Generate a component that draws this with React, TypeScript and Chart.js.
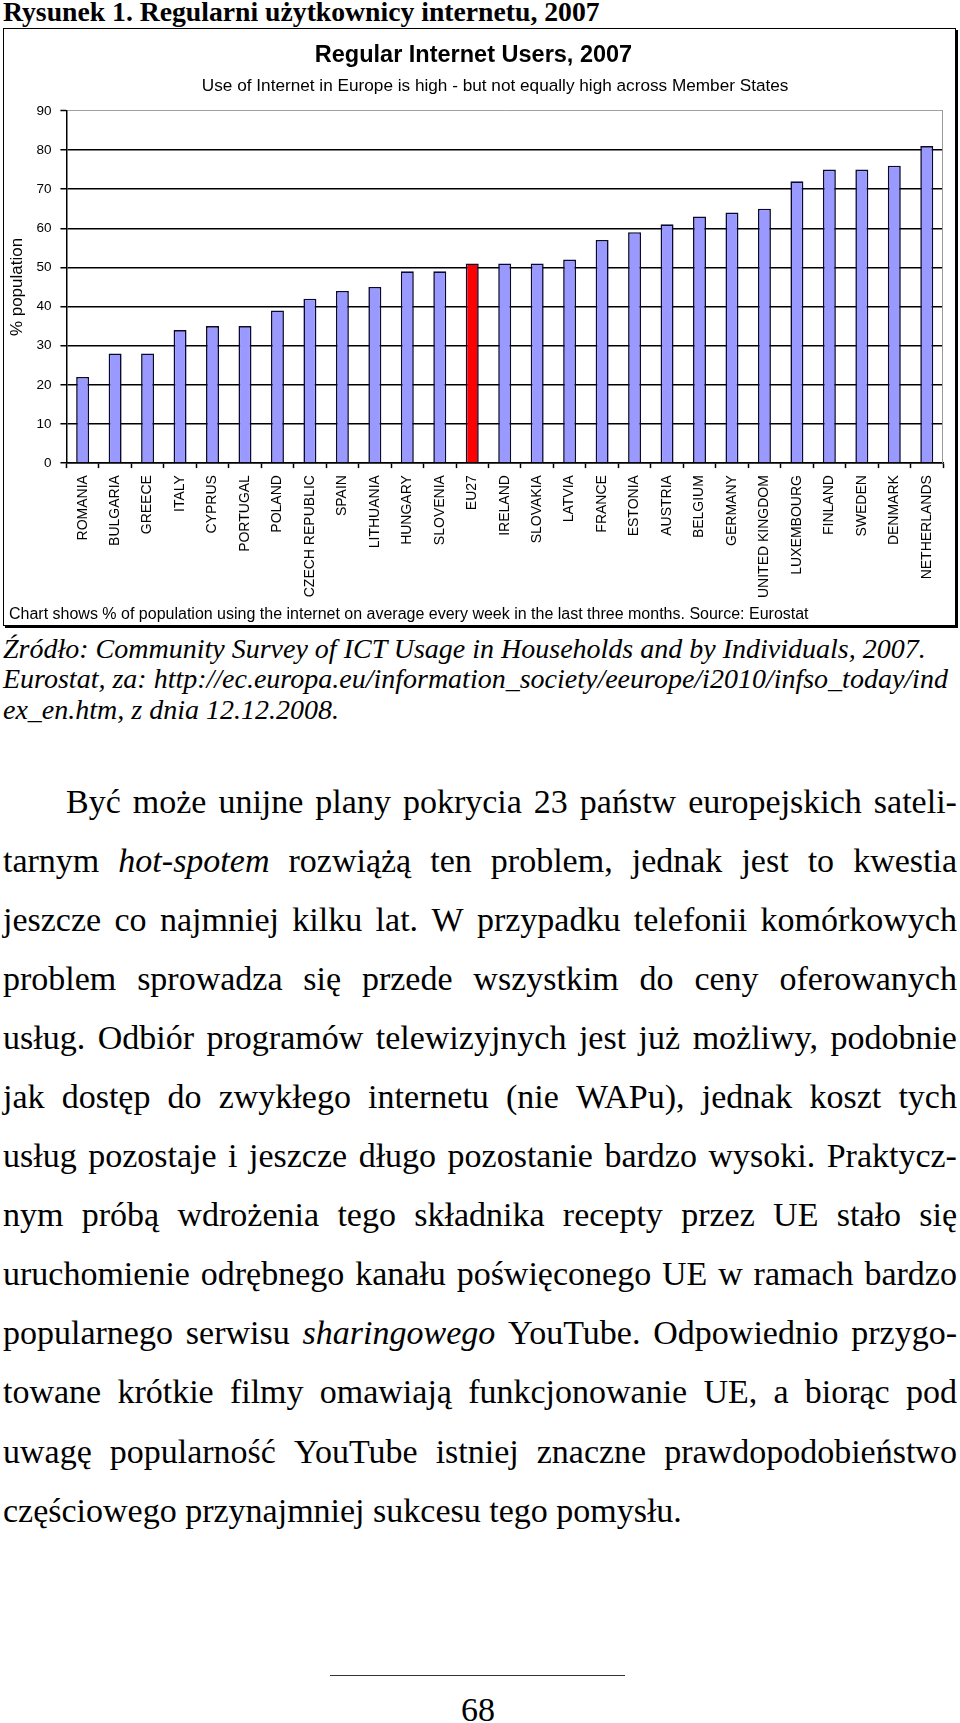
import React, { useEffect, useRef } from "react";
import { Chart, registerables } from "chart.js";

Chart.register(...registerables);

// ---------- data ----------
const categories = [
  "ROMANIA", "BULGARIA", "GREECE", "ITALY", "CYPRUS", "PORTUGAL", "POLAND",
  "CZECH REPUBLIC", "SPAIN", "LITHUANIA", "HUNGARY", "SLOVENIA", "EU27",
  "IRELAND", "SLOVAKIA", "LATVIA", "FRANCE", "ESTONIA", "AUSTRIA", "BELGIUM",
  "GERMANY", "UNITED KINGDOM", "LUXEMBOURG", "FINLAND", "SWEDEN", "DENMARK",
  "NETHERLANDS",
];
const regularUsersPct = [
  22, 28, 28, 34, 35, 35, 39, 42, 44, 45, 49, 49, 51, 51, 51, 52, 57, 59, 61,
  63, 64, 65, 72, 75, 75, 76, 81,
];
const highlightedCategory = "EU27";
const yMin = 0;
const yMax = 90;
const yStep = 10;

// ---------- texts ----------
const figureCaption = "Rysunek 1. Regularni użytkownicy internetu, 2007";
const chartTitle = "Regular Internet Users, 2007";
const chartSubtitle =
  "Use of Internet in Europe is high - but not equally high across Member States";
const yAxisTitle = "% population";
const chartNote =
  "Chart shows % of population using the internet on average every week in the last three months. Source: Eurostat";
const sourceLines = [
  "Źródło: Community Survey of ICT Usage in Households and by Individuals, 2007.",
  "Eurostat, za: http://ec.europa.eu/information_society/eeurope/i2010/infso_today/ind",
  "ex_en.htm, z dnia 12.12.2008.",
];
const bodyLines = [
  "Być może unijne plany pokrycia 23 państw europejskich sateli-",
  "tarnym hot-spotem rozwiążą ten problem, jednak jest to kwestia",
  "jeszcze co najmniej kilku lat. W przypadku telefonii komórkowych",
  "problem sprowadza się przede wszystkim do ceny oferowanych",
  "usług. Odbiór programów telewizyjnych jest już możliwy, podobnie",
  "jak dostęp do zwykłego internetu (nie WAPu), jednak koszt tych",
  "usług pozostaje i jeszcze długo pozostanie bardzo wysoki. Praktycz-",
  "nym próbą wdrożenia tego składnika recepty przez UE stało się",
  "uruchomienie odrębnego kanału poświęconego UE w ramach bardzo",
  "popularnego serwisu sharingowego YouTube. Odpowiednio przygo-",
  "towane krótkie filmy omawiają funkcjonowanie UE, a biorąc pod",
  "uwagę popularność YouTube istniej znaczne prawdopodobieństwo",
  "częściowego przynajmniej sukcesu tego pomysłu.",
];
const italicWords = new Set(["hot-spotem", "sharingowego"]);
const pageNumber = "68";

const SANS = "'Liberation Sans', Arial, sans-serif";
const SERIF = "'Liberation Serif', 'Times New Roman', serif";
const LINE_H = 59.05;

const plotFrame = {
  id: "plotFrame",
  beforeDatasetsDraw(chart: any) {
    const { ctx, chartArea } = chart;
    ctx.save();
    ctx.strokeStyle = "#9a9a9a";
    ctx.lineWidth = 1;
    ctx.beginPath();
    ctx.moveTo(chartArea.right - 0.5, chartArea.top);
    ctx.lineTo(chartArea.right - 0.5, chartArea.bottom);
    ctx.stroke();
    ctx.restore();
  },
};

function BarChart() {
  const ref = useRef<HTMLCanvasElement>(null);
  useEffect(() => {
    const canvas = ref.current;
    if (!canvas) return;
    const chart = new Chart(canvas, {
      type: "bar",
      data: {
        labels: categories,
        datasets: [
          {
            data: regularUsersPct,
            backgroundColor: categories.map((c) =>
              c === highlightedCategory ? "#FF0000" : "#9999FF"
            ),
            borderColor: "#0a0a30",
            borderWidth: 1.6,
            barPercentage: 0.4,
            categoryPercentage: 1,
          },
        ],
      },
      options: {
        responsive: false,
        animation: false,
        devicePixelRatio: 1,
        layout: { padding: { top: 0, left: 0, right: 12, bottom: 20 } },
        plugins: {
          legend: { display: false },
          tooltip: { enabled: false },
          title: {
            display: true,
            text: chartTitle,
            color: "#000",
            font: { family: SANS, size: 23.5, weight: "bold", lineHeight: 1.2 },
            padding: { top: 12, bottom: 7 },
          },
          subtitle: {
            display: true,
            fullSize: false,
            text: chartSubtitle + "    ",
            color: "#000",
            font: { family: SANS, size: 17.2, lineHeight: 1.2 },
            padding: { top: 0, bottom: 14 },
          },
        },
        scales: {
          x: {
            offset: true,
            grid: {
              offset: true,
              drawOnChartArea: false,
              drawTicks: true,
              tickLength: 5,
              tickColor: "#000",
              tickWidth: 1.5,
            },
            border: { color: "#000", width: 1.5 },
            ticks: {
              autoSkip: false,
              minRotation: 90,
              maxRotation: 90,
              padding: 7,
              color: "#000",
              font: { family: SANS, size: 14 },
            },
          },
          y: {
            min: yMin,
            max: yMax,
            ticks: {
              stepSize: yStep,
              padding: 9,
              color: "#000",
              font: { family: SANS, size: 13.5 },
            },
            grid: {
              color: (ctx: any) =>
                ctx.tick && ctx.tick.value === yMax ? "#a0a0a0" : "#000",
              lineWidth: (ctx: any) =>
                ctx.tick && ctx.tick.value === yMax ? 1 : 1.5,
              tickColor: "#000",
              tickWidth: 1.5,
              tickLength: 6,
            },
            border: { color: "#000", width: 1.5 },
            title: {
              display: true,
              text: yAxisTitle,
              color: "#000",
              font: { family: SANS, size: 17, lineHeight: 1.2 },
              padding: { top: 3, bottom: 0 },
            },
          },
        },
      },
      plugins: [plotFrame],
    } as any);
    return () => chart.destroy();
  }, []);
  return (
    <canvas
      ref={ref}
      width={951}
      height={596}
      style={{ display: "block", width: 951, height: 596 }}
    />
  );
}

function BodyLine({ text, indent, justify }: { text: string; indent: number; justify: boolean }) {
  const words = text.split(" ");
  if (!justify) {
    return (
      <div style={{ height: LINE_H, paddingLeft: indent, whiteSpace: "nowrap" }}>{text}</div>
    );
  }
  return (
    <div
      style={{
        height: LINE_H,
        paddingLeft: indent,
        display: "flex",
        justifyContent: "space-between",
        whiteSpace: "nowrap",
      }}
    >
      {words.map((w, i) => (
        <span key={i} style={{ fontStyle: italicWords.has(w) ? "italic" : "normal" }}>
          {w}
        </span>
      ))}
    </div>
  );
}

export default function App() {
  return (
    <div
      style={{
        position: "absolute",
        left: 0,
        top: 0,
        width: 960,
        height: 1723,
        overflow: "hidden",
        background: "#fff",
        color: "#000",
        fontFamily: SERIF,
      }}
    >
      <div
        style={{
          position: "absolute",
          left: 3,
          top: -3,
          fontSize: 27.7,
          lineHeight: "30px",
          fontWeight: "bold",
          whiteSpace: "nowrap",
        }}
      >
        {figureCaption}
      </div>

      <div
        style={{
          position: "absolute",
          left: 3,
          top: 28,
          width: 953,
          height: 598,
          border: "1px solid #000",
          boxSizing: "border-box",
          boxShadow: "2px 2px 0 #000",
          background: "#fff",
        }}
      >
        <div style={{ position: "absolute", left: 0, top: 0 }}>
          <BarChart />
        </div>
        <div
          style={{
            position: "absolute",
            left: 5,
            top: 575.5,
            fontFamily: SANS,
            fontSize: 16,
            lineHeight: "18px",
            whiteSpace: "nowrap",
          }}
        >
          {chartNote}
        </div>
      </div>

      <div
        style={{
          position: "absolute",
          left: 3,
          top: 633.5,
          fontSize: 28,
          lineHeight: "30.5px",
          fontStyle: "italic",
        }}
      >
        {sourceLines.map((l, i) => (
          <div key={i} style={{ whiteSpace: "nowrap" }}>
            {l}
          </div>
        ))}
      </div>

      <div
        style={{
          position: "absolute",
          left: 3,
          top: 772,
          width: 954,
          fontSize: 34,
          lineHeight: `${LINE_H}px`,
        }}
      >
        {bodyLines.map((l, i) => (
          <BodyLine
            key={i}
            text={l}
            indent={i === 0 ? 63 : 0}
            justify={i < bodyLines.length - 1}
          />
        ))}
      </div>

      <div
        style={{
          position: "absolute",
          left: 330,
          top: 1675,
          width: 295,
          height: 0,
          borderTop: "1.5px solid #333",
        }}
      />
      <div
        style={{
          position: "absolute",
          left: 438,
          top: 1690,
          width: 80,
          textAlign: "center",
          fontSize: 34,
          lineHeight: "40px",
        }}
      >
        {pageNumber}
      </div>
    </div>
  );
}
